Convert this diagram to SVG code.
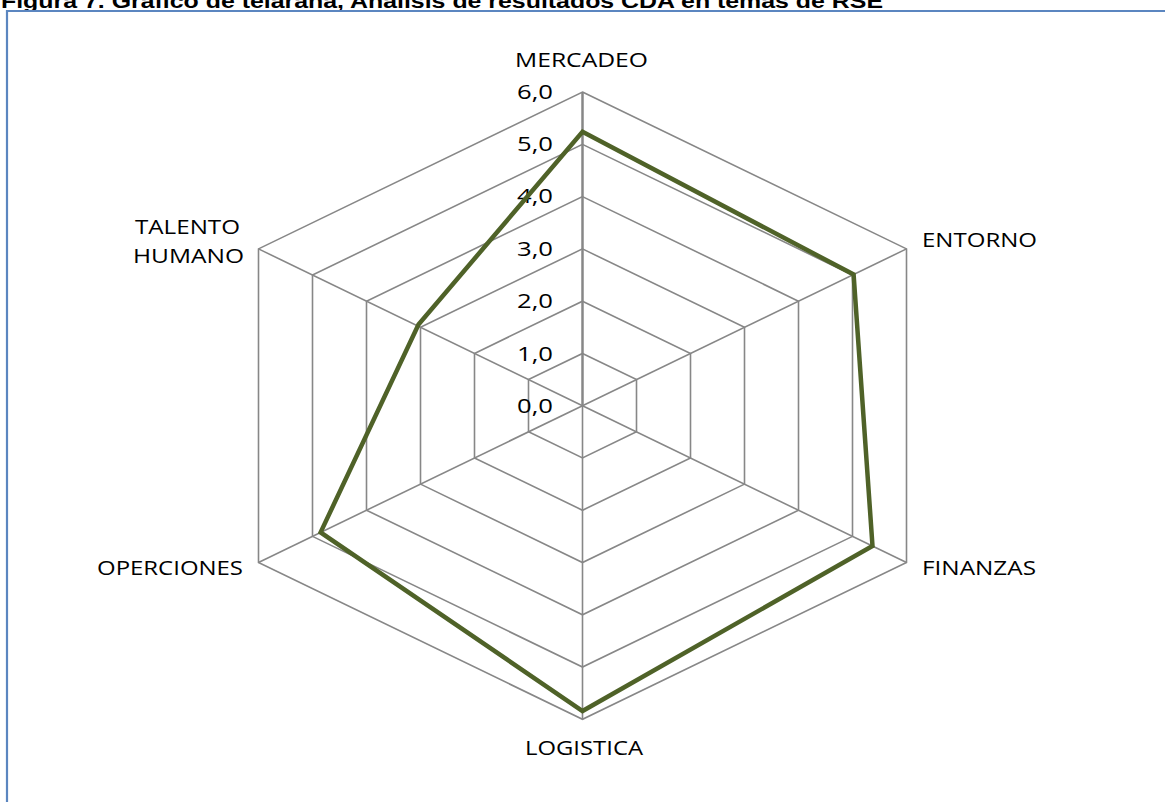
<svg xmlns="http://www.w3.org/2000/svg" width="1165" height="802" viewBox="0 0 1165 802">
<style>
.grid{fill:none;stroke:#878787;stroke-width:1.6}
.spoke{stroke:#878787;stroke-width:1.6}
.axis{stroke:#878787;stroke-width:2.5}
.data{fill:none;stroke:#4f6228;stroke-width:4.5;stroke-linejoin:miter}
.lbl{font-family:"Open Sans","Liberation Sans",sans-serif;font-size:20px;fill:#000}
.num{font-family:"Open Sans","Liberation Sans",sans-serif;font-size:19.5px;fill:#000}
.title{font-family:"Liberation Sans",Arial,sans-serif;font-weight:bold;font-size:21px;fill:#000}
</style>
<rect x="0" y="0" width="1165" height="802" fill="#fff"/>
<text class="title" x="1" y="7.5" textLength="882" lengthAdjust="spacingAndGlyphs">Figura 7. Gráfico de telaraña, Análisis de resultados CDA en temas de RSE</text>
<path d="M7 802 V11 H1165" fill="none" stroke="#5b86c0" stroke-width="2.2"/>
<g id="grid">
<polygon class="grid" points="582.5,353.43 636.5,379.57 636.5,431.84 582.5,457.97 528.5,431.84 528.5,379.57"/>
<polygon class="grid" points="582.5,301.16 690.5,353.43 690.5,457.97 582.5,510.24 474.5,457.97 474.5,353.43"/>
<polygon class="grid" points="582.5,248.89 744.5,327.3 744.5,484.1 582.5,562.51 420.5,484.1 420.5,327.3"/>
<polygon class="grid" points="582.5,196.62 798.5,301.16 798.5,510.24 582.5,614.78 366.5,510.24 366.5,301.16"/>
<polygon class="grid" points="582.5,144.35 852.5,275.03 852.5,536.37 582.5,667.05 312.5,536.37 312.5,275.03"/>
<polygon class="grid" points="582.5,92.08 906.5,248.89 906.5,562.51 582.5,719.32 258.5,562.51 258.5,248.89"/>
</g>
<g id="connectors">
<line class="spoke" x1="582.5" y1="405.7" x2="906.5" y2="248.89"/>
<line class="spoke" x1="582.5" y1="405.7" x2="906.5" y2="562.51"/>
<line class="spoke" x1="582.5" y1="405.7" x2="582.5" y2="719.32"/>
<line class="spoke" x1="582.5" y1="405.7" x2="258.5" y2="562.51"/>
<line class="spoke" x1="582.5" y1="405.7" x2="258.5" y2="248.89"/>
<line class="axis" x1="582.5" y1="405.7" x2="582.5" y2="92.08"/>
</g>
<g id="axis-values">
<text class="num" x="517" y="99" textLength="36" lengthAdjust="spacingAndGlyphs">6,0</text>
<text class="num" x="517" y="151" textLength="36" lengthAdjust="spacingAndGlyphs">5,0</text>
<text class="num" x="517" y="203" textLength="36" lengthAdjust="spacingAndGlyphs">4,0</text>
<text class="num" x="517" y="256" textLength="36" lengthAdjust="spacingAndGlyphs">3,0</text>
<text class="num" x="517" y="308" textLength="36" lengthAdjust="spacingAndGlyphs">2,0</text>
<text class="num" x="517" y="361" textLength="36" lengthAdjust="spacingAndGlyphs">1,0</text>
<text class="num" x="517" y="413" textLength="36" lengthAdjust="spacingAndGlyphs">0,0</text>
</g>
<g id="series">
<polygon class="data" points="582.5,131.8 853.6,274.5 872.5,546 582.5,711 320.6,532.4 418.5,324.5"/>
</g>
<g id="node-mercadeo"><text class="lbl" x="515" y="67" textLength="133" lengthAdjust="spacingAndGlyphs">MERCADEO</text></g>
<g id="node-entorno"><text class="lbl" x="922" y="247" textLength="115" lengthAdjust="spacingAndGlyphs">ENTORNO</text></g>
<g id="node-finanzas"><text class="lbl" x="922" y="575" textLength="114" lengthAdjust="spacingAndGlyphs">FINANZAS</text></g>
<g id="node-logistica"><text class="lbl" x="525" y="755" textLength="118" lengthAdjust="spacingAndGlyphs">LOGISTICA</text></g>
<g id="node-operciones"><text class="lbl" x="97" y="575" textLength="146" lengthAdjust="spacingAndGlyphs">OPERCIONES</text></g>
<g id="node-talento"><text class="lbl" x="135" y="234" textLength="105" lengthAdjust="spacingAndGlyphs">TALENTO</text><text class="lbl" x="133" y="263" textLength="111" lengthAdjust="spacingAndGlyphs">HUMANO</text></g>
</svg>
